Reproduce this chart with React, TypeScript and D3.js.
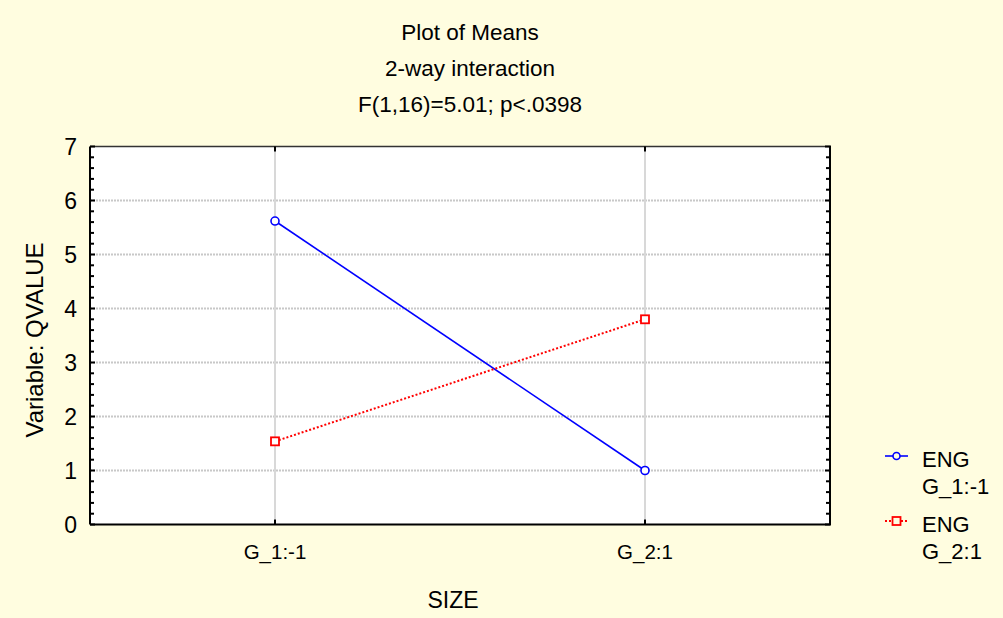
import React from "react";
import * as d3 from "d3";

const categories = ["G_1:-1", "G_2:1"];
const seriesNames = ["ENG\nG_1:-1", "ENG\nG_2:1"];
const engG1 = [5.62, 1.0];
const engG2 = [1.54, 3.8];
const yTicks = [0, 1, 2, 3, 4, 5, 6, 7];
const titles = ["Plot of Means", "2-way interaction", "F(1,16)=5.01; p<.0398"];

const W = 1003, H = 618;
const M = { left: 90, right: 830, top: 146.5, bottom: 524.5 };
const FONT = "'Liberation Sans', Arial, sans-serif";

export default function App() {
  const x = d3.scalePoint<string>().domain(categories).range([M.left, M.right]).padding(0.5);
  const y = d3.scaleLinear().domain([0, 7]).range([M.bottom, M.top]);
  const minor = d3.range(0, 7.001, 0.2).map((v) => +v.toFixed(1));
  const line = d3.line<number>().x((_, i) => x(categories[i])!).y((d) => y(d));
  const blue = "#0000ff", red = "#ff0000";
  return (
    <svg width={W} height={H} style={{ position: "absolute", left: 0, top: 0 }} fontFamily={FONT}>
      <rect x={0} y={0} width={W} height={H} fill="#fffde0" />
      <rect x={M.left} y={M.top} width={M.right - M.left} height={M.bottom - M.top} fill="#ffffff" />
      {titles.map((t, i) => (
        <text key={t} x={470} y={40 + i * 36} textAnchor="middle" fontSize={22.5} fill="#000">{t}</text>
      ))}
      {/* grid */}
      {yTicks.slice(1, -1).map((v) => (
        <line key={"g" + v} x1={M.left} x2={M.right} y1={y(v)} y2={y(v)} stroke="#c8c8c8" strokeWidth={2} strokeDasharray="2,1" />
      ))}
      {categories.map((c) => (
        <line key={"v" + c} x1={x(c)} x2={x(c)} y1={M.top} y2={M.bottom} stroke="#d8d8d8" strokeWidth={2} />
      ))}
      {/* frame */}
      <line x1={M.left} x2={M.right} y1={M.top} y2={M.top} stroke="#333" strokeWidth={1.5} />
      <line x1={M.right} x2={M.right} y1={M.top} y2={M.bottom} stroke="#000" strokeWidth={2} />
      <line x1={M.left} x2={M.left} y1={M.top} y2={M.bottom} stroke="#000" strokeWidth={2} />
      <line x1={M.left} x2={M.right} y1={M.bottom} y2={M.bottom} stroke="#000" strokeWidth={2} />
      {minor.map((v) => {
        const major = Math.abs(v - Math.round(v)) < 1e-6;
        return (
          <g key={"t" + v}>
            <line x1={M.left} x2={M.left + (major ? 5 : 4)} y1={y(v)} y2={y(v)} stroke="#000" strokeWidth={2} />
            <line x1={M.right - (major ? 5 : 4)} x2={M.right + 1} y1={y(v)} y2={y(v)} stroke="#000" strokeWidth={2} />
          </g>
        );
      })}
      {categories.map((c) => (
        <g key={"xt" + c}>
          <line x1={x(c)} x2={x(c)} y1={M.bottom} y2={M.bottom - 5} stroke="#000" strokeWidth={2} />
          <line x1={x(c)} x2={x(c)} y1={M.top} y2={M.top + 5} stroke="#000" strokeWidth={2} />
          <text x={x(c)} y={559} textAnchor="middle" fontSize={20.5}>{c}</text>
        </g>
      ))}
      {yTicks.map((v) => (
        <text key={"yl" + v} x={77} y={y(v) + 8} textAnchor="end" fontSize={23}>{v}</text>
      ))}
      <text x={453} y={608} textAnchor="middle" fontSize={23}>SIZE</text>
      <text transform={`translate(43,340) rotate(-90)`} textAnchor="middle" fontSize={24}>Variable: QVALUE</text>
      {/* series */}
      <path d={line(engG1)!} fill="none" stroke={blue} strokeWidth={1.6} />
      <path d={line(engG2)!} fill="none" stroke={red} strokeWidth={2} strokeDasharray="2,2" />
      {engG1.map((v, i) => (
        <circle key={"c" + i} cx={x(categories[i])} cy={y(v)} r={4} fill="#fff" stroke={blue} strokeWidth={1.6} />
      ))}
      {engG2.map((v, i) => (
        <rect key={"s" + i} x={x(categories[i])! - 4} y={y(v) - 4} width={8} height={8} fill="#fff" stroke={red} strokeWidth={1.8} />
      ))}
      {/* legend */}
      {seriesNames.map((n, i) => {
        const ly = 456 + i * 65;
        const parts = n.split("\n");
        return (
          <g key={"lg" + i}>
            {i === 0 ? (
              <>
                <line x1={885} x2={908} y1={ly} y2={ly} stroke={blue} strokeWidth={1.6} />
                <circle cx={896.5} cy={ly} r={3.5} fill="#fffde0" stroke={blue} strokeWidth={1.6} />
              </>
            ) : (
              <>
                <line x1={885} x2={908} y1={ly} y2={ly} stroke={red} strokeWidth={2} strokeDasharray="2,2" />
                <rect x={892.5} y={ly - 4} width={8} height={8} fill="#fffde0" stroke={red} strokeWidth={1.8} />
              </>
            )}
            <text x={922} y={ly + 11} fontSize={22}>{parts[0]}</text>
            <text x={922} y={ly + 38} fontSize={22}>{parts[1]}</text>
          </g>
        );
      })}
    </svg>
  );
}
